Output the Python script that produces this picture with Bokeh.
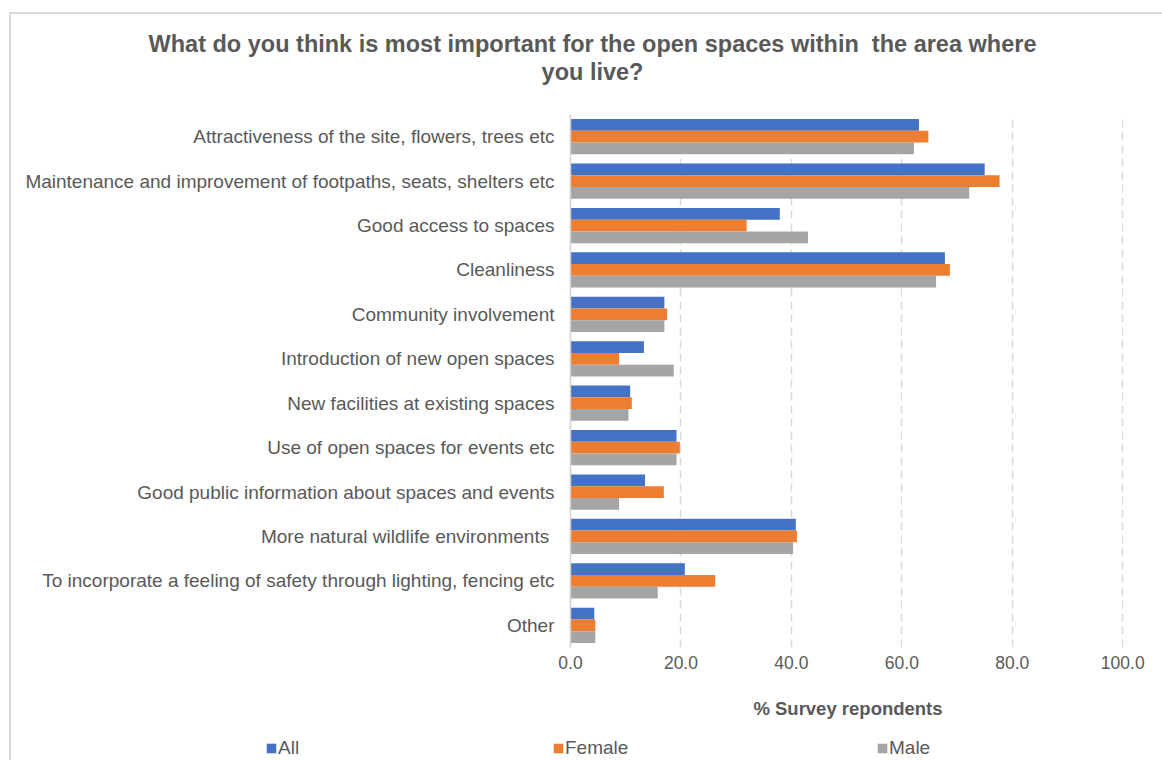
from bokeh.plotting import figure
from bokeh.layouts import column
from bokeh.models import (FactorRange, Range1d, ColumnDataSource, Legend, LegendItem,
                          FixedTicker, Label)
from bokeh.transform import dodge
from bokeh.embed import file_html
from bokeh.resources import INLINE

categories = [
    "Attractiveness of the site, flowers, trees etc",
    "Maintenance and improvement of footpaths, seats, shelters etc",
    "Good access to spaces",
    "Cleanliness",
    "Community involvement",
    "Introduction of new open spaces",
    "New facilities at existing spaces",
    "Use of open spaces for events etc",
    "Good public information about spaces and events",
    "More natural wildlife environments ",
    "To incorporate a feeling of safety through lighting, fencing etc",
    "Other",
]
all_vals = [63.1, 75.0, 37.9, 67.8, 17.0, 13.3, 10.8, 19.2, 13.5, 40.8, 20.7, 4.3]
female_vals = [64.8, 77.7, 31.9, 68.7, 17.5, 8.8, 11.1, 19.8, 16.9, 41.0, 26.2, 4.5]
male_vals = [62.2, 72.2, 43.0, 66.2, 17.0, 18.7, 10.5, 19.2, 8.8, 40.3, 15.8, 4.5]
series_names = ["All", "Female", "Male"]
x_ticks = [0, 20, 40, 60, 80, 100]
title_lines = ["What do you think is most important for the open spaces within\u00a0 the area where",
               "you live?"]
x_title = "% Survey repondents"

colors = ["#4472C4", "#ED7D31", "#A5A5A5"]
FONT = "Liberation Sans"
TXT = "#595959"

# page offsets of the chart content (inside the light border)
OX, OY = 11, 14
W = 1162 - OX
H0 = 114 - OY          # title strip
H1 = 724 - 114         # plot
H2 = 760 - 724         # legend strip

# ---------------- title strip ----------------
t = figure(width=W, height=H0, output_backend="svg", toolbar_location=None,
           x_range=Range1d(0, W), y_range=Range1d(0, H0),
           min_border_left=0, min_border_right=0, min_border_top=0, min_border_bottom=0)
t.frame_align = False
t.axis.visible = False
t.grid.grid_line_color = None
t.outline_line_color = None
t.border_fill_color = "white"
for txt, py in zip(title_lines, [43, 71]):
    t.add_layout(Label(x=592 - OX, y=114 - py, text=txt,
                       text_font=FONT, text_font_size="23.5px", text_font_style="bold",
                       text_color=TXT, text_align="center", text_baseline="middle"))

# ---------------- main plot ----------------
src = ColumnDataSource(dict(cat=categories, All=all_vals, Female=female_vals, Male=male_vals))

p = figure(width=W, height=H1, output_backend="svg", toolbar_location=None,
           y_range=FactorRange(*reversed(categories)), x_range=Range1d(0, 100.5),
           min_border_left=570 - OX, min_border_right=37, min_border_top=0,
           min_border_bottom=724 - 647)
p.frame_align = False
p.outline_line_color = None
p.border_fill_color = "white"

bh = 0.265
offsets = [bh, 0.0, -bh]
for name, off, col in zip(series_names, offsets, colors):
    p.hbar(y=dodge("cat", off, range=p.y_range), right=name, left=0, height=bh,
           source=src, fill_color=col, line_color=None)

p.xaxis.ticker = FixedTicker(ticks=x_ticks)
p.xaxis.major_label_overrides = {t_: f"{t_:.1f}" for t_ in x_ticks}
p.xaxis.axis_line_color = None
p.xaxis.major_tick_line_color = None
p.xaxis.major_tick_out = 0
p.xaxis.major_tick_in = 0
p.xaxis.minor_tick_line_color = None
p.xaxis.major_label_text_font = FONT
p.xaxis.major_label_text_font_size = "17.5px"
p.xaxis.major_label_text_color = TXT
p.xaxis.major_label_standoff = 8
p.xaxis.axis_label = x_title
p.xaxis.axis_label_text_font = FONT
p.xaxis.axis_label_text_font_size = "18.5px"
p.xaxis.axis_label_text_font_style = "bold"
p.xaxis.axis_label_text_color = TXT
p.xaxis.axis_label_standoff = 26

p.yaxis.axis_line_color = "#d0d0d0"
p.yaxis.axis_line_width = 1.5
p.yaxis.major_tick_line_color = None
p.yaxis.major_tick_out = 0
p.yaxis.major_tick_in = 0
p.yaxis.minor_tick_line_color = None
p.yaxis.major_label_text_font = FONT
p.yaxis.major_label_text_font_size = "19px"
p.yaxis.major_label_text_color = TXT
p.yaxis.major_label_standoff = 16

p.xgrid.grid_line_color = "#d9d9d9"
p.xgrid.grid_line_dash = "8 5"
p.xgrid.grid_line_width = 1.5
p.ygrid.grid_line_color = None

# ---------------- legend strip ----------------
q = figure(width=W, height=H2, output_backend="svg", toolbar_location=None,
           x_range=Range1d(0, 1), y_range=Range1d(0, 1),
           min_border_left=0, min_border_right=0, min_border_top=0, min_border_bottom=0)
q.frame_align = False
q.axis.visible = False
q.grid.grid_line_color = None
q.outline_line_color = None
q.border_fill_color = "white"
leg_x = [265, 552, 876]
for name, col, lx in zip(series_names, colors, leg_x):
    # swatch renderer kept outside the visible range; only its legend glyph shows
    r = q.hbar(y=[-5], right=[-4], left=[-5], height=0.1, fill_color=col, line_color=None)
    leg = Legend(items=[LegendItem(label=name, renderers=[r])],
                 location=(lx - OX, 1), orientation="horizontal",
                 glyph_width=12, glyph_height=12, label_standoff=1,
                 label_text_font=FONT, label_text_font_size="19px", label_text_color=TXT,
                 border_line_color=None, background_fill_alpha=0, padding=0, margin=0)
    q.add_layout(leg)

layout = column(t, p, q, spacing=0, margin=(12, 0, 0, 9),
                styles={"border-top": "2px solid #d9d9d9", "border-left": "2px solid #d9d9d9"})

open("out.html", "w").write(file_html(layout, INLINE))
